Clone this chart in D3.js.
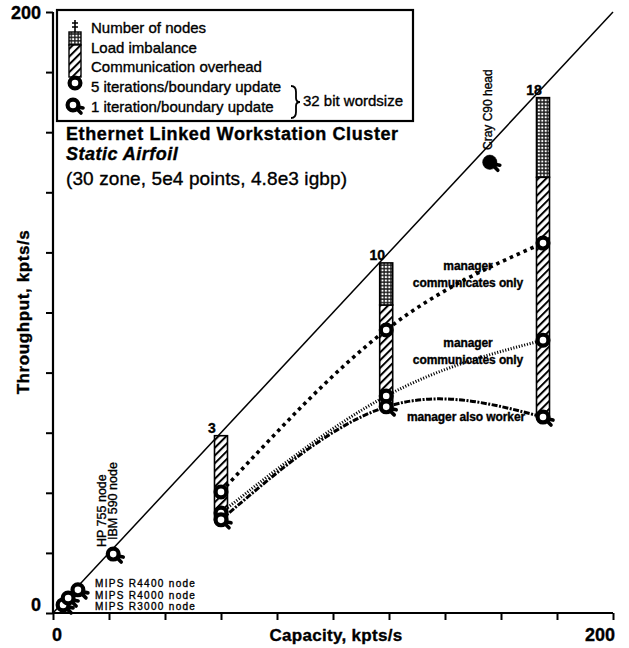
<!DOCTYPE html>
<html><head><meta charset="utf-8">
<script src="https://cdn.jsdelivr.net/npm/d3@7"></script>
<style>
body{margin:0;background:#fff}
svg{display:block}
text{font-family:"Liberation Sans",Arial,Helvetica,sans-serif;fill:#000;stroke:#000;stroke-width:0.35px}
</style>
</head><body>
<svg id="c" width="629" height="648"></svg>
<script>
// ---------- data ----------
const tickValues = [0,20,40,60,80,100,120,140,160,180,200];
const tickLabelValues = [0,200];
const barNodes = ["3","10","18"];
const barCapacity = [60,119,175];
const barTop = [59,116.5,171.5];          // total (top of bar)
const barStippleBase = [59,102.5,145];    // below this: communication overhead
const barBottom = [31,68.6,65.2];         // lowest measured throughput
const lineCapacity = [60,119,175];
const mgrCommOnly5 = [40.3,94.2,123.1];   // dashed, circles
const mgrCommOnly1 = [33.3,72.2,90.8];    // dotted, circles
const mgrAlsoWorker = [31.0,68.6,65.2];   // dash-dot, magnifier
const nodeNames = ["MIPS R3000 node","MIPS R4000 node","MIPS R4400 node","HP 755 node","IBM 590 node","Cray C90 head"];
const nodeCapacity = [3.6,5.4,8.9,21.5,156];
const nodeThroughput = [2.7,5.0,7.7,19.6,150];

// ---------- setup ----------
const svg = d3.select("#c");
svg.append("rect").attr("width",629).attr("height",648).attr("fill","#fff");
const x = d3.scaleLinear().domain([0,200]).range([53,613]);
const y = d3.scaleLinear().domain([0,200]).range([613,12]);

const defs = svg.append("defs");
const hatch = defs.append("pattern").attr("id","hatch").attr("patternUnits","userSpaceOnUse")
  .attr("width",5.5).attr("height",5.5).attr("patternTransform","rotate(45)");
hatch.append("rect").attr("width",5.5).attr("height",5.5).attr("fill","#fff");
hatch.append("line").attr("x1",1).attr("y1",0).attr("x2",1).attr("y2",5.5).attr("stroke","#000").attr("stroke-width",2);
const stip = defs.append("pattern").attr("id","stip").attr("patternUnits","userSpaceOnUse")
  .attr("width",3.4).attr("height",3.4);
stip.append("rect").attr("width",3.4).attr("height",3.4).attr("fill","#222");
stip.append("circle").attr("cx",1.7).attr("cy",1.7).attr("r",1.15).attr("fill","#fff");

// ---------- axes ----------
const xAxis = svg.append("g").attr("transform",`translate(0,${y(0)})`)
  .call(d3.axisBottom(x).tickValues(tickValues).tickSize(7).tickFormat(""));
const yAxis = svg.append("g").attr("transform",`translate(${x(0)},0)`)
  .call(d3.axisLeft(y).tickValues(tickValues).tickSize(7).tickFormat(""));
[xAxis,yAxis].forEach(a=>{
  a.select(".domain").attr("stroke","#000").attr("stroke-width",2.2);
  a.selectAll(".tick line").attr("stroke","#000").attr("stroke-width",2);
});
xAxis.select(".domain").attr("d",`M${x(0)},0H${x(200)}`);
yAxis.select(".domain").attr("d",`M0,${y(0)}V${y(200)}`);

svg.selectAll(".xtl").data(tickLabelValues).enter().append("text")
  .attr("x",d=>d===0?x(d)+4:x(d)+2).attr("y",641)
  .attr("text-anchor",d=>d===0?"middle":"end")
  .attr("font-size",18).attr("font-weight","bold").text(d=>d);
svg.selectAll(".ytl").data(tickLabelValues).enter().append("text")
  .attr("x",41).attr("y",d=>y(d)+(d===0?-2:7))
  .attr("text-anchor","end").attr("font-size",18).attr("font-weight","bold").text(d=>d);

svg.append("text").attr("x",336).attr("y",641).attr("text-anchor","middle")
  .attr("font-size",17).attr("font-weight","bold").attr("letter-spacing",0.3).text("Capacity, kpts/s");
svg.append("text").attr("transform","translate(29,312) rotate(-90)").attr("text-anchor","middle")
  .attr("font-size",17).attr("font-weight","bold").attr("letter-spacing",0.6).text("Throughput, kpts/s");

// ---------- diagonal ----------
svg.append("line").attr("x1",x(0)).attr("y1",y(0)).attr("x2",x(200)).attr("y2",y(200))
  .attr("stroke","#000").attr("stroke-width",1.5);

// ---------- markers ----------
function ring(cx,cy){
  svg.append("circle").attr("cx",cx).attr("cy",cy).attr("r",5.4)
    .attr("fill","#fff").attr("stroke","#000").attr("stroke-width",4.2);
}
function magnifier(cx,cy,filled){
  svg.append("path").attr("d",`M${cx+3},${cy+3}L${cx+8},${cy+8}M${cx+5},${cy+2}L${cx+10},${cy+3}`)
    .attr("stroke","#000").attr("stroke-width",3.6).attr("stroke-linecap","round");
  svg.append("circle").attr("cx",cx).attr("cy",cy).attr("r",filled?7.2:5.4)
    .attr("fill",filled?"#000":"#fff").attr("stroke","#000").attr("stroke-width",filled?0.5:4.2);
}

// ---------- legend ----------
const lg = svg.append("g");
lg.append("rect").attr("x",57).attr("y",10).attr("width",356).attr("height",111)
  .attr("fill","#fff").attr("stroke","#000").attr("stroke-width",2.2);
lg.append("path").attr("d","M75,20V32M72,23H78M72,27H78").attr("stroke","#000").attr("stroke-width",1.6).attr("fill","none");
lg.append("rect").attr("x",69).attr("y",32).attr("width",12).attr("height",13).attr("fill","url(#stip)").attr("stroke","#000").attr("stroke-width",1.4);
lg.append("rect").attr("x",69).attr("y",45).attr("width",12).attr("height",32).attr("fill","url(#hatch)").attr("stroke","#000").attr("stroke-width",1.4);
ring(75,83);
magnifier(73,105);
const legItems = ["Number of nodes","Load imbalance","Communication overhead","5 iterations/boundary update","1 iteration/boundary update"];
const legBase = [33,53,72,92,112];
svg.selectAll(".li").data(legItems).enter().append("text")
  .attr("x",91).attr("y",(d,i)=>legBase[i]).attr("font-size",15).text(d=>d);
svg.append("path").attr("d","M291,86 q5,0 5,6 v6 q0,4 4,4 q-4,0 -4,4 v6 q0,6 -5,6")
  .attr("fill","none").attr("stroke","#000").attr("stroke-width",1.8);
svg.append("text").attr("x",303).attr("y",106).attr("font-size",15).text("32 bit wordsize");

// title block
svg.append("text").attr("x",66).attr("y",140).attr("font-size",18).attr("font-weight","bold")
  .attr("letter-spacing",0.6).text("Ethernet Linked Workstation Cluster");
svg.append("text").attr("x",66).attr("y",160).attr("font-size",18).attr("font-weight","bold")
  .attr("font-style","italic").attr("letter-spacing",0.5).text("Static Airfoil");
svg.append("text").attr("x",66).attr("y",185).attr("font-size",19).attr("letter-spacing",0.1)
  .text("(30 zone, 5e4 points, 4.8e3 igbp)");

// ---------- bars ----------
const bw = 13;
const bars = svg.append("g");
barNodes.forEach((n,i)=>{
  const cx = x(barCapacity[i]);
  bars.append("rect").attr("x",cx-bw/2).attr("y",y(barStippleBase[i]))
    .attr("width",bw).attr("height",y(barBottom[i])-y(barStippleBase[i]))
    .attr("fill","url(#hatch)").attr("stroke","#000").attr("stroke-width",1.6);
  if (barTop[i] > barStippleBase[i]) {
    bars.append("rect").attr("x",cx-bw/2).attr("y",y(barTop[i]))
      .attr("width",bw).attr("height",y(barStippleBase[i])-y(barTop[i]))
      .attr("fill","url(#stip)").attr("stroke","#000").attr("stroke-width",1.6);
  }
  bars.append("text").attr("x",cx-9).attr("y",y(barTop[i])-3).attr("text-anchor","middle")
    .attr("font-size",14).attr("font-weight","bold").text(n);
});

// ---------- lines ----------
const lineGen = d3.line().x(d=>x(d[0])).y(d=>y(d[1])).curve(d3.curveNatural);
const series = [
  {vals:mgrCommOnly5, sw:3.6, dash:"3.5,4"},
  {vals:mgrCommOnly1, sw:3, dash:"1.1,1.7"},
  {vals:mgrAlsoWorker, sw:3, dash:"6,1.5,2,1.5"}
];
series.forEach(s=>{
  svg.append("path").datum(lineCapacity.map((c,i)=>[c,s.vals[i]]))
    .attr("d",lineGen).attr("fill","none").attr("stroke","#000")
    .attr("stroke-width",s.sw).attr("stroke-dasharray",s.dash);
});

lineCapacity.forEach((c,i)=>{
  ring(x(c),y(mgrCommOnly5[i]));
  ring(x(c),y(mgrCommOnly1[i]));
  magnifier(x(c),y(mgrAlsoWorker[i]));
});
for (let i=0;i<4;i++){
  magnifier(x(nodeCapacity[i]),y(nodeThroughput[i]));
}
magnifier(x(nodeCapacity[4]),y(nodeThroughput[4]),true);

// node labels
const mipsBase = [610,598.5,587];
[0,1,2].forEach(i=>{
  svg.append("text").attr("x",95).attr("y",mipsBase[i]).attr("font-size",10)
    .attr("letter-spacing",1.3).text(nodeNames[i]);
});
svg.append("text").attr("transform","translate(106,547) rotate(-90)").attr("font-size",12.5).text(nodeNames[3]);
svg.append("text").attr("transform","translate(117,540) rotate(-90)").attr("font-size",12.5).text(nodeNames[4]);
svg.append("text").attr("transform",`translate(${x(nodeCapacity[4])+2},150) rotate(-90)`).attr("font-size",12).text(nodeNames[5]);

// annotations
const ann = [
  {t:"manager",x:468,y:270},{t:"communicates only",x:468,y:287},
  {t:"manager",x:468,y:347},{t:"communicates only",x:468,y:364},
  {t:"manager also worker",x:466,y:421}
];
ann.forEach(a=>{
  svg.append("text").attr("x",a.x).attr("y",a.y).attr("text-anchor","middle")
    .attr("font-size",12).attr("font-weight","bold").attr("letter-spacing",-0.1).text(a.t);
});
</script>
</body></html>
